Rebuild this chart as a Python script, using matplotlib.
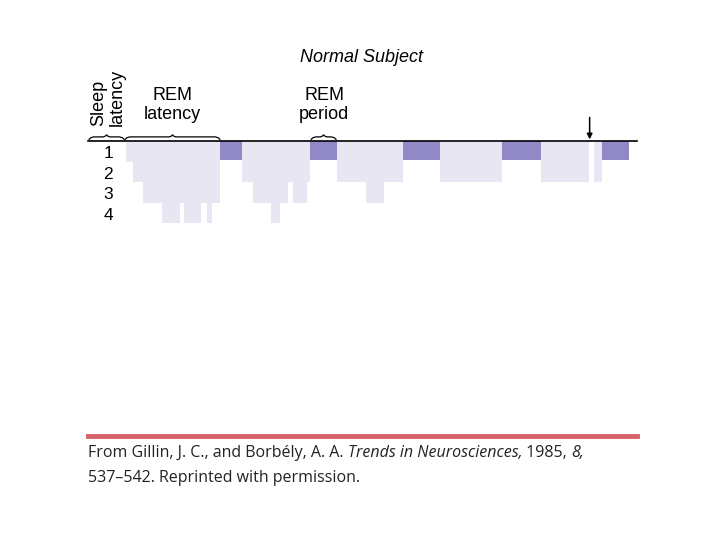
import matplotlib
matplotlib.use("Agg")
import matplotlib.pyplot as plt

# hypnogram of a normal subject (minutes after lights out)
# stage 0 = awake, 1-4 = NREM depth, "R" = REM period
seg_start = [0, 34, 40, 49, 66, 82, 85, 100, 106, 110, 117, 137, 146, 162, 170,
             177, 182, 194, 197, 221, 247, 263, 279, 312, 367, 402, 444, 449, 456]
seg_stage = [0, 1, 2, 3, 4, 3, 4, 3, 4, 3, "R", 2, 3, 4, 3,
             2, 3, 2, "R", 2, 3, 2, "R", 2, "R", 2, 0, 2, "R"]
night_end = 480
stage_labels = ["1", "2", "3", "4"]

light = "#e9e6f3"
rem = "#9189c6"

plt.rcParams["font.family"] = ["Liberation Sans", "DejaVu Sans"]
fig = plt.figure(figsize=(7.2, 5.4), dpi=100)

# axes placed so that x=0 sits at pixel 88 and the top rule at pixel 141
ax = fig.add_axes([88 / 720, 1 - 223 / 540, 549 / 720, 82 / 540])
ax.set_xlim(0, 487)
ax.set_ylim(4, 0)
ax.axis("off")

ends = seg_start[1:] + [night_end]
for s, e, st in zip(seg_start, ends, seg_stage):
    if st == "R":
        ax.bar(s, 0.92, width=e - s, bottom=0, align="edge", color=rem, lw=0)
    elif st > 0:
        ax.bar(s, st, width=e - s, bottom=0, align="edge", color=light, lw=0)

ax.plot([0, 487], [0, 0], color="black", lw=1.2, zorder=5, clip_on=False)

for i, lab in enumerate(stage_labels):
    ax.text(18, i + 0.62, lab, ha="center", va="center", fontsize=12.5)


def brace(x0, x1):
    xm = (x0 + x1) / 2
    xs = [x0, x0 + 1.5, x0 + 4, xm - 3, xm - 1, xm, xm + 1, xm + 3, x1 - 4, x1 - 1.5, x1]
    ys = [-0.08, -0.16, -0.2, -0.2, -0.24, -0.3, -0.24, -0.2, -0.2, -0.16, -0.08]
    ax.plot(xs, ys, color="black", lw=0.9, clip_on=False)


brace(1, 32)
brace(33, 117)
brace(198, 220)

ax.annotate("", xy=(445, -0.08), xytext=(445, -1.15), annotation_clip=False,
            arrowprops=dict(arrowstyle="-|>", color="black", lw=1.1,
                            mutation_scale=8, shrinkA=0, shrinkB=0))

fig.text(362 / 720, 1 - 57 / 540, "Normal Subject", style="italic",
         ha="center", va="center", fontsize=13)
fig.text(172 / 720, 1 - 105 / 540, "REM\nlatency", ha="center", va="center",
         fontsize=13, linespacing=1.15)
fig.text(324 / 720, 1 - 105 / 540, "REM\nperiod", ha="center", va="center",
         fontsize=13, linespacing=1.15)
fig.text(108 / 720, 1 - 126 / 540, "Sleep\nlatency", ha="center", va="bottom",
         rotation=90, fontsize=13, linespacing=1.05, multialignment="left")

# red rule and source note
fig.add_artist(plt.Line2D([88 / 720, 637 / 720], [1 - 436 / 540, 1 - 436 / 540],
                          color="#d8626c", lw=3.5))

cap_font = ["Open Sans", "DejaVu Sans"]
pieces = [("From Gillin, J. C., and Borbély, A. A. ", "normal"),
          ("Trends in Neurosciences,", "italic"),
          (" 1985, ", "normal"),
          ("8,", "italic")]
renderer = fig.canvas.get_renderer()
x = 88 / 720
for txt, sty in pieces:
    t = fig.text(x, 1 - 453 / 540, txt, style=sty, family=cap_font,
                 fontsize=11.5, va="center", ha="left", color="#222222")
    bb = t.get_window_extent(renderer)
    x += bb.width / 720
fig.text(88 / 720, 1 - 478 / 540, "537–542. Reprinted with permission.",
         family=cap_font, fontsize=11.5, va="center", ha="left", color="#222222")

fig.savefig("out.png", dpi=100)
